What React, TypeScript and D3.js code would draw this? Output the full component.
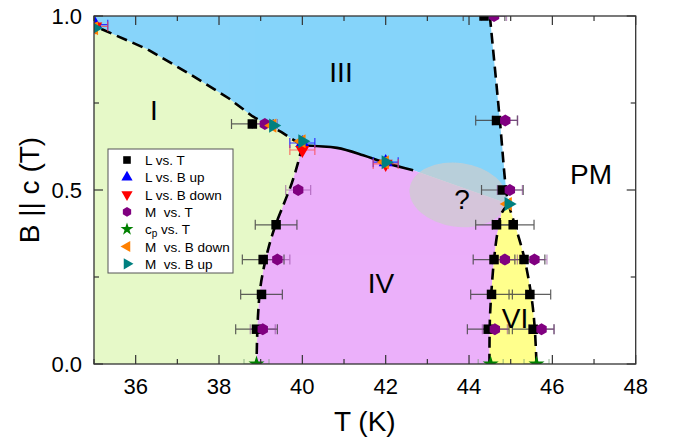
import React from "react";
import * as d3 from "d3";

type P = [number, number];

// ---- axis ticks ----
const xMajor = [36, 38, 40, 42, 44, 46, 48];
const xMinor = [35, 37, 39, 41, 43, 45, 47];
const yMajor = [0, 0.5, 1.0];
const yMinor = [0.25, 0.75];

// ---- phase boundaries (T, B) ----
const bI_III: P[] = [[35, 0.972], [36.27, 0.905], [37.26, 0.836], [38.24, 0.763], [38.8, 0.712], [39.5, 0.666], [40.0, 0.628]];
const bIII_IV: P[] = [[40.0, 0.628], [40.83, 0.621], [41.46, 0.6], [41.94, 0.58], [42.66, 0.557]];
const bIII_IV_hidden: P[] = [[42.66, 0.557], [44.95, 0.46]];
const bI_IV: P[] = [[40.0, 0.628], [39.9, 0.58], [39.745, 0.519], [39.545, 0.457], [39.344, 0.395], [39.184, 0.332], [39.064, 0.27], [38.984, 0.213], [38.944, 0.155], [38.92, 0.098], [38.9, 0]];
const bPM: P[] = [[44.5, 1.0], [44.74, 0.7], [44.89, 0.5], [44.95, 0.46], [45.14, 0.385], [45.3, 0.318], [45.42, 0.25], [45.52, 0.174], [45.58, 0.098], [45.62, 0]];
const bVI: P[] = [[44.95, 0.46], [44.78, 0.433], [44.68, 0.376], [44.6, 0.3], [44.54, 0.213], [44.5, 0.126], [44.49, 0]];

// ---- data series (T, B) ----
const lVsT: P[] = [[38.8, 0.69], [44.36, 1.0], [44.66, 0.7], [44.8, 0.5], [44.66, 0.4], [45.06, 0.4], [44.6, 0.3], [45.32, 0.3], [44.54, 0.2], [45.46, 0.2], [44.46, 0.1], [45.54, 0.1], [39.37, 0.4], [39.06, 0.3], [39.02, 0.2], [38.9, 0.1]];
const lVsBup: P[] = [[35.03, 0.975], [40.0, 0.635], [42.0, 0.58]];
const lVsBdown: P[] = [[35.03, 0.97], [40.0, 0.615], [42.0, 0.575]];
const mVsT: P[] = [[39.1, 0.69], [39.9, 0.5], [39.4, 0.3], [39.05, 0.1], [44.6, 1.0], [44.87, 0.7], [44.98, 0.5], [44.86, 0.3], [45.57, 0.3], [44.62, 0.1], [45.74, 0.1]];
const cpVsT: P[] = [[38.9, 0], [44.52, 0], [45.62, 0]];
const mVsBdown: P[] = [[35.0, 0.965], [39.28, 0.685], [39.98, 0.64], [41.98, 0.58], [44.93, 0.46]];
const mVsBup: P[] = [[35.02, 0.965], [39.3, 0.685], [40.0, 0.64], [42.0, 0.58], [44.95, 0.46]];

// error bars in T (K)
const lVsTErr = 0.5;
const mVsTErr = 0.3;
const lVsBErr = 0.3;
const cpErr = 0.3;

const legendLabels = ["L vs. T", "L vs. B up", "L vs. B down", "M  vs. T", "cp vs. T", "M  vs. B down", "M  vs. B up"];
const phaseLabels: { t: string; x: number; y: number }[] = [
  { t: "I", x: 154, y: 110 },
  { t: "III", x: 341, y: 72 },
  { t: "IV", x: 381, y: 283 },
  { t: "VI", x: 515, y: 318 },
  { t: "PM", x: 591, y: 174 },
  { t: "?", x: 462, y: 199 },
];

const FONT = "'Liberation Sans', Arial, sans-serif";
const L = 94, R = 635.7, T0 = 16, B0 = 364;
const x = d3.scaleLinear().domain([35, 48]).range([L, R]);
const y = d3.scaleLinear().domain([0, 1]).range([B0, T0]);

const lineLin = d3.line<P>().x(d => x(d[0])).y(d => y(d[1]));
const lineSmooth = d3.line<P>().x(d => x(d[0])).y(d => y(d[1])).curve(d3.curveCatmullRom.alpha(0.5));
const poly = (pts: P[]) => lineLin(pts) + "Z";

const hexPath = (r: number) => {
  const pts = d3.range(6).map(i => {
    const a = (Math.PI / 3) * i + Math.PI / 6;
    return [r * Math.cos(a), r * Math.sin(a)];
  });
  return "M" + pts.map(p => p.join(",")).join("L") + "Z";
};
const tri = (size: number) => d3.symbol().type(d3.symbolTriangle).size(size)() as string;
const sq = (s: number) => `M${-s / 2},${-s / 2}h${s}v${s}h${-s}Z`;
const star = (size: number) => d3.symbol().type(d3.symbolStar).size(size)() as string;

type MarkerKind = "sq" | "up" | "down" | "hex" | "star" | "left" | "right";
const markerColor: Record<MarkerKind, string> = {
  sq: "#000000", up: "#0000ff", down: "#ff0000", hex: "#800080", star: "#008000", left: "#ff8000", right: "#008080",
};
function Marker({ kind, cx, cy, s = 1 }: { kind: MarkerKind; cx: number; cy: number; s?: number }) {
  const fill = markerColor[kind];
  let d = "";
  let rot = 0;
  switch (kind) {
    case "sq": d = sq(9.5 * s); break;
    case "hex": d = hexPath(6 * s); break;
    case "star": d = star(80 * s * s); break;
    case "up": d = tri(85 * s * s); break;
    case "down": d = tri(85 * s * s); rot = 180; break;
    case "left": d = tri(85 * s * s); rot = -90; break;
    case "right": d = tri(85 * s * s); rot = 90; break;
  }
  return <path d={d} fill={fill} transform={`translate(${cx},${cy}) rotate(${rot})`} />;
}

function ErrBars({ data, err, color, opacity = 1, cap = 5 }: { data: P[]; err: number; color: string; opacity?: number; cap?: number }) {
  return (
    <g stroke={color} strokeWidth={1.2} opacity={opacity} fill="none">
      {data.map((d, i) => {
        const x1 = x(d[0] - err), x2 = x(d[0] + err), yy = y(d[1]);
        return (
          <path key={i} d={`M${x1},${yy}H${x2}M${x1},${yy - cap}V${yy + cap}M${x2},${yy - cap}V${yy + cap}`} />
        );
      })}
    </g>
  );
}

export default function App() {
  const green: P[] = [[35, 0], ...bI_III, ...bI_IV.slice(1)];
  const blue: P[] = [[35, 1], ...bPM.slice(0, 4), ...[...bIII_IV_hidden].reverse().slice(1), ...[...bIII_IV].reverse().slice(1), ...[...bI_III].reverse().slice(1)];
  const pink: P[] = [...[...bI_IV].reverse(), ...bIII_IV.slice(1), ...bIII_IV_hidden.slice(1), ...bVI.slice(1)];
  const yellow: P[] = [...bVI, ...[...bPM.slice(3)].reverse().slice(0, -1)];

  const ec = { cx: x(43.74), cy: y(0.486) };

  const series: { kind: MarkerKind; data: P[] }[] = [
    { kind: "sq", data: lVsT },
    { kind: "hex", data: mVsT },
    { kind: "star", data: cpVsT },
    { kind: "up", data: lVsBup },
    { kind: "down", data: lVsBdown },
    { kind: "left", data: mVsBdown },
    { kind: "right", data: mVsBup },
  ];
  const legendKinds: MarkerKind[] = ["sq", "up", "down", "hex", "star", "left", "right"];

  const dash = "11,6";

  return (
    <svg width={678} height={440} style={{ position: "absolute", left: 0, top: 0, fontFamily: FONT }}>
      <defs>
        <clipPath id="plotclip">
          <rect x={L} y={T0} width={R - L} height={B0 - T0} />
        </clipPath>
      </defs>
      <rect x={0} y={0} width={678} height={440} fill="#ffffff" />
      <g clipPath="url(#plotclip)">
        <path d={poly(green)} fill="#e6f9c8" />
        <path d={poly(blue)} fill="#87d4fa" />
        <path d={poly(pink)} fill="#ebb0fa" />
        <path d={poly(yellow)} fill="#ffff8c" />
        <ellipse cx={ec.cx} cy={ec.cy} rx={49} ry={32} fill="#cdcdcd" opacity={0.72} transform={`rotate(8,${ec.cx},${ec.cy})`} />

        <g fill="none" stroke="#000" strokeWidth={2.6}>
          <path d={lineLin(bI_III) as string} strokeDasharray={dash} strokeDashoffset={-8} />
          <path d={lineSmooth(bI_IV) as string} strokeDasharray={dash} />
          <path d={lineSmooth(bPM) as string} strokeDasharray={dash} />
          <path d={lineSmooth(bVI) as string} strokeDasharray={dash} />
          <path d={lineSmooth(bIII_IV) as string} />
        </g>

        <ErrBars data={lVsT} err={lVsTErr} color="#444" opacity={0.85} />
        <ErrBars data={mVsT} err={mVsTErr} color="#8a3a96" opacity={0.55} />
        <ErrBars data={cpVsT} err={cpErr} color="#6a9a6a" opacity={0.6} />
        <ErrBars data={lVsBup} err={lVsBErr} color="#3030ff" />
        <ErrBars data={lVsBdown} err={lVsBErr} color="#ff4040" opacity={0.7} />

        {series.map(s => s.data.map((d, i) => <Marker key={s.kind + i} kind={s.kind} cx={x(d[0])} cy={y(d[1])} />))}
      </g>

      {/* frame */}
      <rect x={L} y={T0} width={R - L} height={B0 - T0} fill="none" stroke="#333" strokeWidth={1.3} />
      <g stroke="#333" strokeWidth={1.2}>
        {xMajor.map(t => (
          <g key={"xM" + t}>
            <line x1={x(t)} x2={x(t)} y1={B0} y2={B0 - 9} />
            <line x1={x(t)} x2={x(t)} y1={T0} y2={T0 + 9} />
          </g>
        ))}
        {xMinor.map(t => (
          <g key={"xm" + t}>
            <line x1={x(t)} x2={x(t)} y1={B0} y2={B0 - 5} />
            <line x1={x(t)} x2={x(t)} y1={T0} y2={T0 + 5} />
          </g>
        ))}
        {yMajor.map(t => (
          <g key={"yM" + t}>
            <line x1={L} x2={L + 9} y1={y(t)} y2={y(t)} />
            <line x1={R} x2={R - 9} y1={y(t)} y2={y(t)} />
          </g>
        ))}
        {yMinor.map(t => (
          <g key={"ym" + t}>
            <line x1={L} x2={L + 5} y1={y(t)} y2={y(t)} />
            <line x1={R} x2={R - 5} y1={y(t)} y2={y(t)} />
          </g>
        ))}
      </g>
      <g fontSize={22} fill="#000">
        {xMajor.map(t => (
          <text key={"xl" + t} x={x(t)} y={B0 + 30} textAnchor="middle">{t}</text>
        ))}
        {yMajor.map(t => (
          <text key={"yl" + t} x={L - 12} y={y(t) + 8} textAnchor="end">{t.toFixed(1)}</text>
        ))}
      </g>
      <text x={(L + R) / 2} y={431} fontSize={28} textAnchor="middle">T (K)</text>
      <text transform={`translate(39,${(T0 + B0) / 2}) rotate(-90)`} fontSize={28} textAnchor="middle">B || c (T)</text>

      {phaseLabels.map(p => (
        <text key={p.t} x={p.x} y={p.y + 10} fontSize={28} textAnchor="middle">{p.t}</text>
      ))}

      {/* legend */}
      <g>
        <rect x={108} y={149} width={125} height={124} fill="#fff" stroke="#555" strokeWidth={1} />
        {legendKinds.map((k, i) => {
          const ly = 160 + i * 17.3;
          const label = legendLabels[i];
          return (
            <g key={k}>
              <Marker kind={k} cx={127} cy={ly} s={0.8} />
              {label.startsWith("cp") ? (
                <text x={145} y={ly + 5} fontSize={13.5} style={{ whiteSpace: "pre" }}>
                  c<tspan dy={3} fontSize={10}>p</tspan><tspan dy={-3}>{" vs. T"}</tspan>
                </text>
              ) : (
                <text x={145} y={ly + 5} fontSize={13.5} style={{ whiteSpace: "pre" }}>{label}</text>
              )}
            </g>
          );
        })}
      </g>
    </svg>
  );
}
